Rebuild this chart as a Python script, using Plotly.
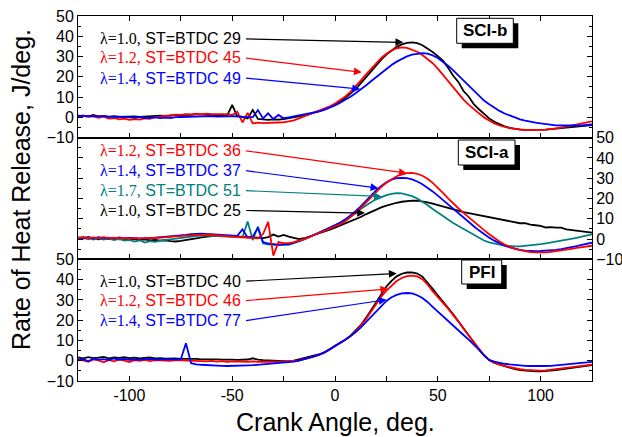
import plotly.graph_objects as go

# ---------------- data ----------------
CRANK_ANGLE = [a / 2 for a in range(-250, 251, 5)]  # -125 ... 125 deg, 2.5 deg step

# SCI-b panel (top)
SCIB_L10_ST29 = [0.6, 0.8, 0.5, 1.2, 0.4, 0.7, 0.3, 0.6, 0.2, 0.4, 0.3, 0.5, 0.2, 0.4, 0.6, 0.5, 0.8, 0.7, 1.0, 1.2,
                 1.1, 1.4, 1.3, 1.6, 1.5, 1.3, 1.4, 1.2, 1.0, 0.8, 6.2, 0.5, 0.2, -0.5, 3.6, -0.8, -1.0, -1.2, -1.0, -1.1, -0.8, -0.4,
                 0.0, 0.5, 1.0, 1.6, 2.3, 3.1, 4.0, 5.0, 6.2, 7.7, 9.5, 11.6, 14.0, 16.8, 19.8, 22.8, 25.7, 28.5, 31.0, 33.1,
                 34.8, 36.0, 36.8, 37.0, 36.6, 35.6, 34.1, 32.2, 30.2, 28.0, 24.5, 20.5, 17.5, 13.0, 10.3, 6.5, 4.0, 1.5, -0.5, -2.2,
                 -3.5, -4.4, -5.2, -5.7, -6.0, -6.2, -6.2, -6.2, -6.1, -6.0, -5.8, -5.6, -5.3, -5.0, -4.8, -4.5, -4.3, -4.0, -3.8]
SCIB_L12_ST45 = [0.5, 0.8, 0.3, 0.6, -0.2, 0.4, -0.6, -0.3, -1.0, -0.6, -1.2, -0.8, -1.1, -0.5, -0.7, 0.2, 0.4, 0.8, 0.6, 1.3,
                 1.2, 1.6, 1.4, 1.8, 1.5, 1.9, 1.6, 1.7, 1.5, 1.6, 1.2, 2.8, -2.5, 2.2, -3.0, -2.6, -2.8, -2.7, -2.9, -2.6, -2.4, -2.0,
                 -1.5, -0.5, 0.5, 1.5, 2.5, 3.4, 4.4, 5.5, 6.8, 8.4, 10.3, 12.6, 15.2, 18.1, 21.1, 24.0, 26.8, 29.3, 31.4, 33.0,
                 34.1, 34.5, 34.3, 33.5, 32.4, 30.8, 28.9, 26.7, 24.0, 21.0, 17.8, 14.5, 11.5, 8.8, 6.3, 4.0, 2.0, 0.0, -1.6, -3.0,
                 -4.0, -4.8, -5.3, -5.7, -6.0, -6.2, -6.2, -6.3, -6.2, -6.0, -5.8, -5.4, -5.0, -4.5, -4.0, -3.4, -2.8, -2.3, -2.0]
SCIB_L14_ST49 = [0.8, 0.6, 0.7, 0.5, 0.6, 0.4, 0.5, 0.3, 0.4, 0.2, 0.0, -0.1, 0.1, -0.3, -0.2, 0.0, -0.3, -0.1, -0.4, 0.1,
                 0.2, 0.3, 0.4, 0.5, 0.6, 0.5, 0.6, 0.4, 0.5, 0.5, 0.4, 0.6, 0.3, 0.2, 0.1, 3.6, -0.5, 2.0, -0.8, 1.2, -0.4, 0.0,
                 0.5, 0.8, 1.2, 1.7, 2.3, 3.0, 3.8, 4.8, 5.9, 7.2, 8.6, 10.2, 11.9, 13.7, 15.7, 17.8, 19.9, 21.9, 23.9, 25.8,
                 27.5, 28.9, 30.1, 31.0, 31.5, 31.7, 31.4, 30.6, 29.3, 27.6, 25.5, 23.2, 20.7, 18.1, 15.5, 12.9, 10.4, 8.3, 6.5, 4.7,
                 3.2, 1.9, 0.8, -0.3, -1.0, -1.6, -2.2, -2.6, -3.0, -3.4, -3.6, -3.9, -4.0, -4.1, -4.1, -4.0, -3.9, -3.7, -3.5]

# SCI-a panel (middle)
SCIA_L12_ST36 = [0.6, 1.0, 0.4, 0.8, 0.3, 0.9, 0.5, 0.7, 0.4, 0.6, 0.3, 0.5, 0.2, 0.6, 0.4, 0.5, 0.7, 0.9, 1.1, 1.3,
                 1.5, 1.8, 2.0, 2.2, 2.1, 2.3, 2.0, 1.8, 1.7, 1.5, 1.2, 1.0, 0.8, 0.6, 0.5, 0.3, 2.5, 8.5, -8.2, -1.5, -2.0,
                 -2.0, -1.5, -0.8, 0.0, 1.0, 2.0, 3.0, 4.0, 5.0, 6.0, 7.3, 8.8, 10.6, 12.8, 15.3, 18.0, 20.7, 23.3, 25.7, 27.8,
                 29.6, 31.0, 31.9, 32.5, 32.6, 32.2, 31.2, 29.7, 27.7, 25.4, 22.8, 20.1, 17.5, 15.2, 12.9, 10.7, 8.6, 6.5, 4.4, 2.4,
                 0.5, -1.2, -2.7, -3.9, -4.8, -5.5, -6.0, -6.4, -6.6, -6.7, -6.6, -6.3, -6.0, -5.7, -5.2, -4.8, -4.4, -4.0, -3.6, -3.3]
SCIA_L14_ST37 = [0.8, 0.5, 1.0, 0.3, 0.9, 0.4, 0.7, 0.2, 0.8, 0.3, 0.6, 0.4, 0.5, 0.2, 0.4, 0.6, 0.8, 1.0, 1.2, 1.5,
                 1.8, 2.1, 2.4, 2.6, 2.7, 2.5, 2.4, 2.2, 2.0, 1.9, 1.8, 1.6, 4.8, 0.8, 1.2, 5.5, -1.5, -2.2, -2.5, -2.8, -2.6,
                 -2.5, -1.8, -1.0, 0.0, 1.0, 2.1, 3.2, 4.3, 5.4, 6.6, 8.0, 9.6, 11.5, 13.7, 16.1, 18.8, 21.5, 24.0, 26.2, 28.0,
                 29.3, 30.0, 30.2, 30.0, 29.4, 28.4, 27.0, 25.4, 23.5, 21.4, 19.2, 17.0, 14.8, 12.6, 10.4, 8.3, 6.3, 4.3, 2.4, 0.7,
                 -0.8, -2.1, -3.2, -4.1, -4.8, -5.3, -5.7, -5.9, -6.0, -5.9, -5.8, -5.6, -5.3, -5.0, -4.6, -4.1, -3.5, -2.9, -2.3, -1.8]
SCIA_L17_ST51 = [0.5, 0.2, 0.6, -0.2, 0.4, -0.3, 0.3, -0.5, 0.1, -0.8, -0.4, -1.2, -0.6, -1.7, -1.0, -1.4, -0.8, -0.5, -0.2, 0.2,
                 0.5, 0.9, 1.2, 1.6, 1.8, 1.7, 1.6, 1.4, 1.3, 1.1, 1.0, 0.9, 0.8, 8.7, -0.5, 6.2, -2.2, -2.6, -2.9, -3.0, -2.9,
                 -2.8, -2.0, -1.2, -0.2, 0.9, 2.0, 3.1, 4.3, 5.5, 6.8, 8.2, 9.7, 11.3, 13.0, 14.8, 16.6, 18.2, 19.6, 20.8, 21.7,
                 22.3, 22.6, 22.5, 22.0, 21.2, 20.0, 18.5, 16.8, 14.8, 13.0, 11.2, 9.5, 7.9, 6.4, 5.0, 3.4, 1.8, 0.5, -0.7, -1.6,
                 -2.3, -2.8, -3.2, -3.5, -3.6, -3.6, -3.4, -3.1, -2.8, -2.5, -2.1, -1.7, -1.3, -0.9, -0.5, 0.0, 0.6, 1.2, 1.8, 2.3]
SCIA_L10_ST25 = [0.3, 0.6, 0.1, 0.5, -0.1, 0.4, 0.0, 0.3, -0.2, 0.2, -0.3, 0.1, -0.4, -0.2, -0.6, -0.4, -0.8, -0.6, -1.0, -1.2,
                 -0.9, -0.6, -0.2, 0.3, 0.8, 1.2, 1.4, 1.5, 1.6, 1.5, 1.4, 1.2, 1.0, 0.9, 0.8, 0.6, 0.5, 1.0, 2.2, 1.2, 2.0,
                 1.2, 0.5, 0.0, 0.4, 1.2, 2.0, 2.9, 3.8, 4.7, 5.6, 6.6, 7.6, 8.6, 9.7, 10.9, 12.2, 13.4, 14.6, 15.6, 16.5,
                 17.3, 17.9, 18.4, 18.7, 18.9, 18.9, 18.6, 18.1, 17.5, 16.8, 16.0, 15.2, 14.4, 13.8, 13.3, 12.8, 12.3, 11.8, 11.2, 10.8,
                 10.3, 9.8, 9.2, 8.7, 8.2, 7.8, 7.9, 7.1, 6.8, 6.5, 5.7, 5.9, 5.6, 5.6, 4.8, 4.5, 4.1, 3.8, 3.5, 3.2]

# PFI panel (bottom)
PFI_L10_ST40 = [1.6, 1.2, 1.8, 1.3, 1.5, 1.9, 1.2, 1.6, 1.4, 1.7, 1.3, 1.5, 1.1, 1.4, 1.6, 1.2, 1.3, 1.0, 1.2, 1.1,
                0.9, 1.0, 0.8, 0.9, 0.7, 0.8, 0.6, 0.7, 0.5, 0.6, 0.5, 0.4, 0.5, 0.6, 1.2, 0.5, 0.3, 0.2, 0.1, 0.0, -0.2, -0.3,
                0.0, 0.6, 1.1, 1.7, 2.4, 3.2, 4.3, 5.7, 7.5, 8.8, 10.3, 12.2, 14.6, 17.5, 21.0, 25.0, 29.2, 33.2, 36.6, 39.4,
                41.6, 42.9, 43.5, 43.6, 43.0, 41.5, 38.7, 35.4, 32.3, 29.3, 26.2, 22.9, 19.5, 16.0, 12.3, 8.8, 5.6, 2.6, 0.3, -1.1,
                -1.9, -2.7, -3.5, -4.2, -4.6, -4.9, -5.1, -5.2, -5.2, -5.1, -4.9, -4.6, -4.3, -3.9, -3.6, -3.2, -2.9, -2.5, -2.2]
PFI_L12_ST46 = [0.8, 0.3, -0.5, 0.6, 0.2, -0.8, 0.4, -0.3, 0.5, 0.1, -0.6, 0.3, 0.0, 0.4, -0.2, 0.3, 0.1, 0.2, -0.1, 0.3,
                0.2, 0.0, 0.1, -0.2, 0.0, -0.3, -0.1, -0.4, -0.2, -0.5, -0.3, -0.4, -0.2, -0.5, -0.3, -0.6, -0.5, -0.4, -0.5, -0.6, -0.4, -0.5,
                -0.3, 0.2, 0.8, 1.4, 2.1, 3.0, 4.1, 5.6, 7.4, 8.7, 10.2, 12.0, 14.3, 17.1, 20.4, 24.1, 28.0, 31.6, 34.6, 37.2,
                39.3, 40.8, 41.7, 42.0, 41.6, 40.2, 37.6, 34.3, 31.2, 28.5, 25.7, 22.6, 19.3, 15.8, 12.4, 9.0, 5.8, 2.7, 0.3, -1.0,
                -1.9, -2.6, -3.2, -3.8, -4.2, -4.5, -4.7, -4.9, -4.9, -4.8, -4.5, -4.1, -3.7, -3.3, -3.0, -2.7, -2.4, -2.1, -1.9]
PFI_L14_ST77 = [0.2, 0.9, -0.3, 1.0, 0.5, 0.8, 0.3, 1.1, 0.6, 0.9, 0.4, 0.7, 0.5, 0.8, 0.9, 0.6, 0.7, 0.5, 0.6, 0.8,
                0.7, 8.6, -1.2, -1.8, -2.0, -2.2, -2.3, -2.4, -2.5, -2.6, -2.6, -2.5, -2.4, -2.3, -2.2, -2.0, -1.8, -1.6, -1.4, -1.2, -1.0, -0.8,
                -0.5, 0.1, 0.7, 1.4, 2.1, 3.0, 4.1, 5.6, 7.4, 8.8, 10.3, 12.0, 14.0, 16.3, 18.9, 21.7, 24.5, 27.2, 29.5, 31.3,
                32.5, 33.2, 33.4, 33.2, 32.3, 30.9, 29.0, 26.6, 24.2, 22.0, 19.7, 17.3, 15.0, 12.7, 10.4, 8.0, 5.5, 2.6, 0.4, -0.4,
                -1.1, -1.5, -1.8, -2.1, -2.3, -2.5, -2.6, -2.7, -2.7, -2.6, -2.5, -2.3, -2.1, -1.9, -1.6, -1.3, -1.1, -0.8, -0.6]

X_TICKS = [-100, -75, -50, -25, 0, 25, 50, 75, 100]
X_TICK_TEXT = ["-100", "", "-50", "", "0", "", "50", "", "100"]
Y_TICKS = [-10, 0, 10, 20, 30, 40, 50]

BLACK, RED, BLUE, TEAL = "#000000", "#ff0000", "#0000ff", "#008080"

# series: (values, color, lambda text, ST text, label y, arrow tip x, arrow tip y)
PANELS = [
    ("x3", "y", "SCI-b", [
        (SCIB_L10_ST29, BLACK, "λ=1.0,", "ST=BTDC 29", 38.7, 33.2, 37.0),
        (SCIB_L12_ST45, RED, "λ=1.2,", "ST=BTDC 45", 29.3, 13.0, 22.2),
        (SCIB_L14_ST49, BLUE, "λ=1.4,", "ST=BTDC 49", 19.4, 12.2, 14.0),
    ]),
    ("x2", "y2", "SCI-a", [
        (SCIA_L10_ST25, BLACK, "λ=1.0,", "ST=BTDC 25", 14.1, 14.6, 12.8),
        (SCIA_L17_ST51, TEAL, "λ=1.7,", "ST=BTDC 51", 23.9, 22.7, 21.0),
        (SCIA_L14_ST37, BLUE, "λ=1.4,", "ST=BTDC 37", 33.8, 21.1, 25.1),
        (SCIA_L12_ST36, RED, "λ=1.2,", "ST=BTDC 36", 43.6, 34.9, 32.5),
    ]),
    ("x", "y3", "PFI", [
        (PFI_L10_ST40, BLACK, "λ=1.0,", "ST=BTDC 40", 39.2, 30.0, 43.0),
        (PFI_L12_ST46, RED, "λ=1.2,", "ST=BTDC 46", 29.6, 25.9, 35.4),
        (PFI_L14_ST77, BLUE, "λ=1.4,", "ST=BTDC 77", 19.7, 25.1, 30.1),
    ]),
]

# ---------------- figure ----------------
W, H = 622, 437
L, R, T, B = 78, 592, 16, 381
SANS = "Liberation Sans, Arial, sans-serif"
SERIF = "Liberation Serif, Times New Roman, serif"


def paper(px, py):
    return (px - L) / (R - L), (B - py) / (B - T)


fig = go.Figure()
annotations = []
shapes = []

for xa, ya, name, series in PANELS:
    for vals, color, lam, st, ly, tx, ty in series:
        assert len(vals) == len(CRANK_ANGLE)
        fig.add_trace(go.Scatter(x=CRANK_ANGLE, y=vals, mode="lines", xaxis=xa, yaxis=ya,
                                 line=dict(color=color, width=1.8), showlegend=False, hoverinfo="skip"))
        annotations.append(dict(
            xref=xa, yref=ya, x=-44.8, y=ly, xanchor="right", yanchor="middle", showarrow=False,
            text=f'<span style="font-family:{SERIF}">{lam}</span> {st}',
            font=dict(family=SANS, size=16, color=color)))
        annotations.append(dict(
            xref=xa, yref=ya, x=tx, y=ty, axref=xa, ayref=ya, ax=-44.0, ay=ly, text="",
            showarrow=True, arrowhead=2, arrowsize=1.3, arrowwidth=1.2, arrowcolor=color,
            standoff=0, startstandoff=0))

BOXES = [("SCI-b", 456.7, 18.3, 513.3, 43.3), ("SCI-a", 458.3, 140.0, 515.0, 165.0), ("PFI", 461.7, 260.0, 501.7, 284.0)]
for text, bx0, by0, bx1, by1 in BOXES:
    sx0, sy0 = paper(bx0 + 5, by1 + 5)
    sx1, sy1 = paper(bx1 + 5, by0 + 5)
    shapes.append(dict(type="rect", xref="paper", yref="paper", x0=sx0, y0=sy0, x1=sx1, y1=sy1,
                       fillcolor="black", line=dict(width=0), layer="above"))
    x0, y0 = paper(bx0, by1)
    x1, y1 = paper(bx1, by0)
    shapes.append(dict(type="rect", xref="paper", yref="paper", x0=x0, y0=y0, x1=x1, y1=y1,
                       fillcolor="white", line=dict(color="black", width=1), layer="above"))
    cx, cy = paper((bx0 + bx1) / 2, (by0 + by1) / 2)
    annotations.append(dict(xref="paper", yref="paper", x=cx, y=cy, xanchor="center", yanchor="middle",
                            showarrow=False, text=f"<b>{text}</b>", font=dict(family=SANS, size=17, color="black")))

tx, ty = paper(335, 422)
annotations.append(dict(xref="paper", yref="paper", x=tx, y=ty, xanchor="center", yanchor="middle",
                        showarrow=False, text="Crank Angle, deg.", font=dict(family=SANS, size=25, color="black")))
tx, ty = paper(21, 190)
annotations.append(dict(xref="paper", yref="paper", x=tx, y=ty, xanchor="center", yanchor="middle",
                        showarrow=False, textangle=-90, text="Rate of Heat Release, J/deg.",
                        font=dict(family=SANS, size=25, color="black")))

xcommon = dict(range=[-125, 125], showline=True, linecolor="black", linewidth=1, ticks="inside", ticklen=5,
               tickwidth=1, tickcolor="black", tickmode="array", tickvals=X_TICKS, ticktext=X_TICK_TEXT,
               showgrid=False, zeroline=False, automargin=False,
               tickfont=dict(family=SANS, size=16, color="black"))
ycommon = dict(range=[-10, 50], showline=True, linecolor="black", linewidth=1, ticks="inside", ticklen=5,
               tickwidth=1, tickcolor="black", tickmode="array", tickvals=Y_TICKS, showgrid=False, zeroline=False,
               automargin=False, tickfont=dict(family=SANS, size=16, color="black"), mirror="ticks",
               minor=dict(dtick=5, tick0=0, ticks="inside", ticklen=3, tickcolor="black", showgrid=False))

fig.update_layout(
    width=W, height=H, margin=dict(l=L, r=W - R, t=T, b=H - B, autoexpand=False),
    paper_bgcolor="white", plot_bgcolor="white", showlegend=False,
    xaxis=dict(xcommon, domain=[0, 1], anchor="y3", mirror=True, showticklabels=True),
    xaxis2=dict(xcommon, domain=[0, 1], anchor="y2", mirror=True, showticklabels=False, matches="x"),
    xaxis3=dict(xcommon, domain=[0, 1], anchor="y", mirror="ticks", showticklabels=False, matches="x"),
    yaxis=dict(ycommon, domain=[2 / 3, 1], anchor="x3", side="left"),
    yaxis2=dict(ycommon, domain=[1 / 3, 2 / 3], anchor="x2", side="right"),
    yaxis3=dict(ycommon, domain=[0, 1 / 3], anchor="x", side="left"),
    annotations=annotations, shapes=shapes,
)

fig.write_html("out.html", config={"displayModeBar": False},
               post_script="document.body.style.margin='0px';document.body.style.overflow='hidden';")
